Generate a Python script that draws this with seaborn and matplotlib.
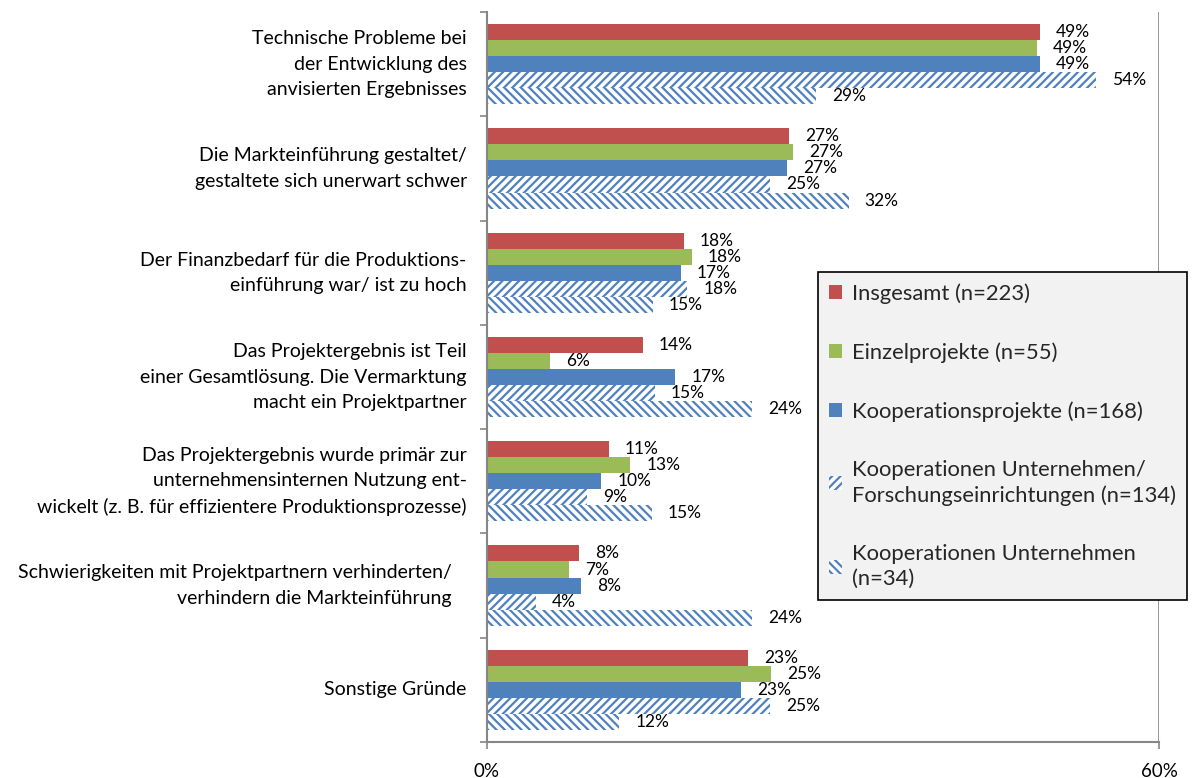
import numpy as np
import pandas as pd
import matplotlib
matplotlib.use("Agg")
import matplotlib.pyplot as plt
import matplotlib.patches as mpatches
from matplotlib.ticker import FuncFormatter
import seaborn as sns

# Reasons for delayed / failed market launch, share of projects in percent
categories = [
    "Technische Probleme bei\nder Entwicklung des\nanvisierten Ergebnisses",
    "Die Markteinführung gestaltet/\ngestaltete sich unerwart schwer",
    "Der Finanzbedarf für die Produktions-\neinführung war/ ist zu hoch",
    "Das Projektergebnis ist Teil\neiner Gesamtlösung. Die Vermarktung\nmacht ein Projektpartner",
    "Das Projektergebnis wurde primär zur\nunternehmensinternen Nutzung ent-\nwickelt (z. B. für effizientere Produktionsprozesse)",
    "Schwierigkeiten mit Projektpartnern verhinderten/   \nverhindern die Markteinführung   ",
    "Sonstige Gründe",
]

series = [
    "Insgesamt (n=223)",
    "Einzelprojekte (n=55)",
    "Kooperationsprojekte (n=168)",
    "Kooperationen Unternehmen/\nForschungseinrichtungen (n=134)",
    "Kooperationen Unternehmen\n(n=34)",
]

insgesamt = [49.4, 27.0, 17.6, 13.9, 10.9, 8.2, 23.3]
einzel = [49.1, 27.3, 18.3, 5.6, 12.8, 7.3, 25.4]
kooperation = [49.4, 26.8, 17.3, 16.8, 10.2, 8.4, 22.7]
koop_forschung = [54.4, 25.3, 17.9, 15.0, 8.9, 4.4, 25.3]
koop_unternehmen = [29.4, 32.3, 14.8, 23.7, 14.7, 23.7, 11.8]

x_ticks = [0, 60]

RED = "#c0504d"
GREEN = "#9bbb59"
BLUE = "#4f81bd"
GREY = "#868686"

values = [insgesamt, einzel, kooperation, koop_forschung, koop_unternehmen]
df = pd.DataFrame(
    [(cat, s, v[i]) for s, v in zip(series, values) for i, cat in enumerate(categories)],
    columns=["Grund", "Gruppe", "Anteil"],
)

sns.set_theme(style="white")
plt.rcParams["font.family"] = ["Lato", "DejaVu Sans"]
plt.rcParams["hatch.linewidth"] = 1.6

fig = plt.figure(figsize=(11.98, 7.78), dpi=100)
ax = fig.add_axes([487 / 1198, 1 - 742 / 778, 672 / 1198, 730 / 778])

palette = {series[0]: RED, series[1]: GREEN, series[2]: BLUE,
           series[3]: "white", series[4]: "white"}
sns.barplot(data=df, y="Grund", x="Anteil", hue="Gruppe", order=categories,
            hue_order=series, palette=palette, orient="h", width=0.77,
            saturation=1, legend=False, ax=ax, errorbar=None)

hatches = [None, None, None, "////", "\\\\\\\\"]
for cont, h in zip(ax.containers, hatches):
    for bar in cont:
        if h is None:
            bar.set_edgecolor("none")
            bar.set_linewidth(0)
        else:
            bar.set_facecolor("white")
            bar.set_edgecolor(BLUE)
            bar.set_hatch(h)
            bar.set_linewidth(0)
    ax.bar_label(cont, fmt=lambda v: f"{v:.0f}%", padding=11.5,
                 fontsize=12.5, color="black")

ax.set_xlim(0, 60)
ax.set_ylim(len(categories) - 0.5, -0.5)
ax.set_xticks(x_ticks)
ax.xaxis.set_major_formatter(FuncFormatter(lambda v, p: f"{v:.0f}%"))
ax.set_xlabel("")
ax.set_ylabel("")

ax.set_yticks(np.arange(-0.5, len(categories), 1), minor=True)
ax.tick_params(axis="y", which="major", length=0, pad=14.5, labelsize=14,
               labelcolor="black")
ax.tick_params(axis="y", which="minor", length=5, width=1.2, color=GREY,
               direction="out", left=True)
ax.tick_params(axis="x", which="major", length=5, width=1.2, color=GREY,
               direction="out", bottom=True, pad=10, labelsize=13.5,
               labelcolor="black")
for lab in ax.get_yticklabels():
    lab.set_linespacing(1.6)
    lab.set_verticalalignment("center")

ax.grid(False)
ax.axvline(60, color=GREY, lw=1.2, zorder=0)
for side in ["top", "right"]:
    ax.spines[side].set_visible(False)
for side in ["left", "bottom"]:
    ax.spines[side].set_color(GREY)
    ax.spines[side].set_linewidth(1.5)

handles = []
for lab, col, h in zip(series, [RED, GREEN, BLUE, BLUE, BLUE], hatches):
    if h is None:
        handles.append(mpatches.Patch(facecolor=col, edgecolor="none", label=lab))
    else:
        handles.append(mpatches.Patch(facecolor="white", edgecolor=col,
                                      hatch=h, linewidth=0, label=lab))

leg = fig.legend(handles=handles, loc="upper left",
                 bbox_to_anchor=(818 / 1198, 1 - 272 / 778),
                 bbox_transform=fig.transFigure, fontsize=15.8,
                 frameon=True, fancybox=False, framealpha=1,
                 facecolor="#f2f2f2", edgecolor="black",
                 handlelength=0.6, handleheight=0.6, handletextpad=0.45,
                 labelspacing=1.75, borderpad=0.5, borderaxespad=0)
leg.get_frame().set_linewidth(1.2)
for t in leg.get_texts():
    t.set_linespacing(1.3)

fig.savefig("out.png", dpi=100)
